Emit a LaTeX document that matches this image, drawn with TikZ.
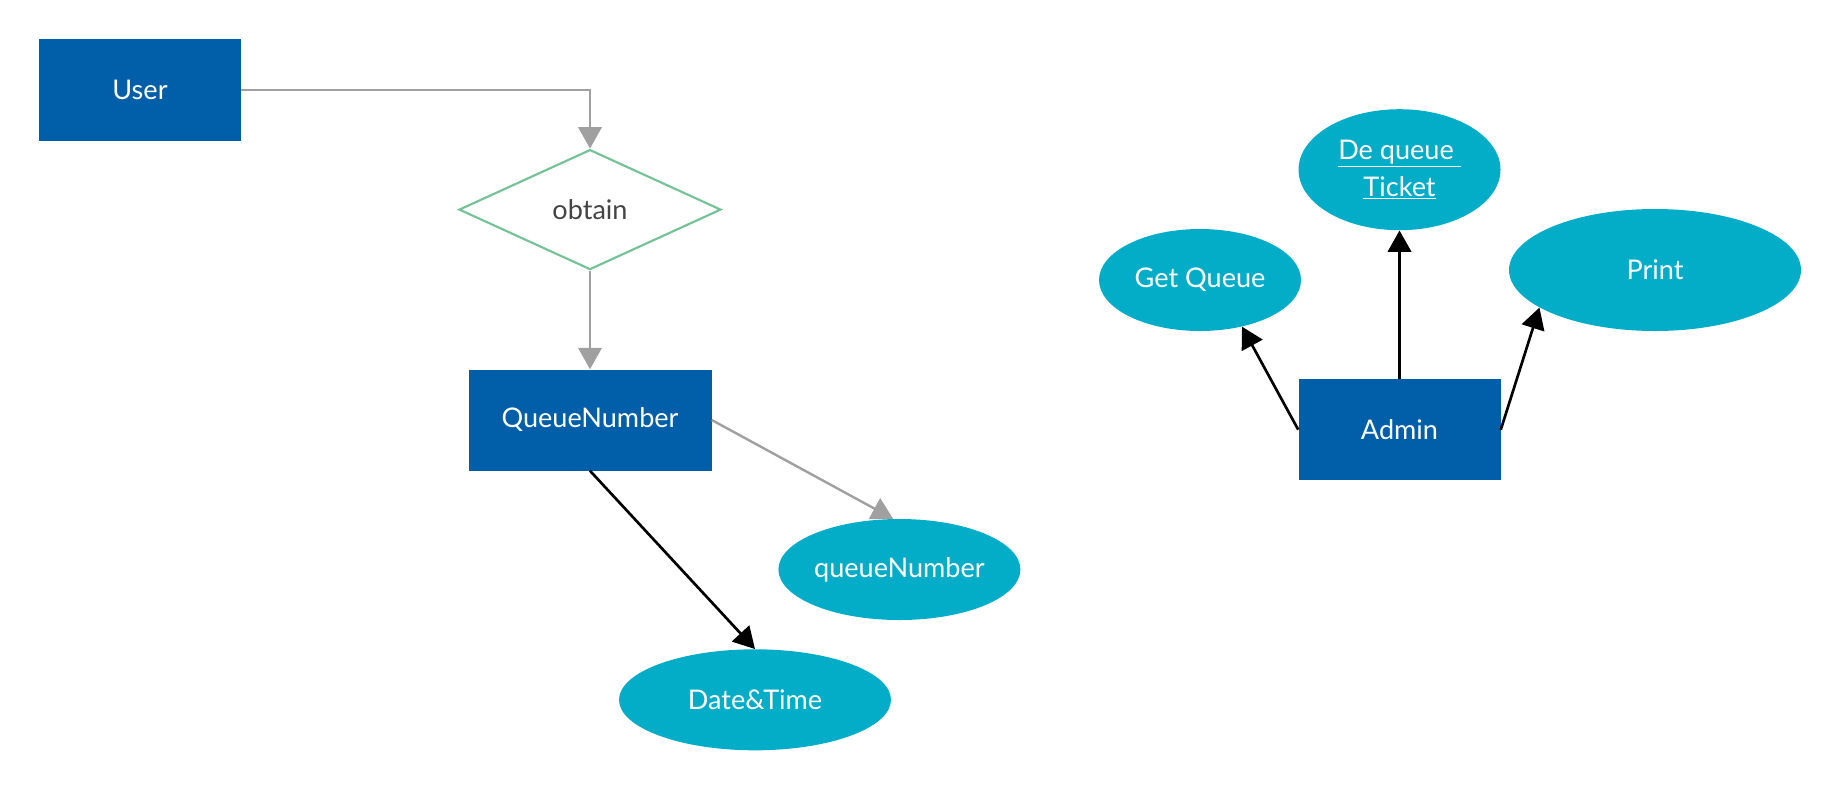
\documentclass[tikz,border=0pt]{standalone}
\usepackage{fontspec}
\setmainfont{Lato}
\usetikzlibrary{shapes.geometric,arrows.meta}
\newdimen\px
\px=0.75pt
\definecolor{boxblue}{RGB}{1,94,168}
\definecolor{ellcyan}{RGB}{4,173,199}
\definecolor{linegrey}{RGB}{160,160,160}
\definecolor{diagreen}{RGB}{116,194,150}
\definecolor{txtgrey}{RGB}{68,68,68}
\tikzset{
  boxnode/.style={rectangle, fill=boxblue, text=white, inner sep=0pt, font=\fontsize{20.3}{25}\selectfont},
  ellnode/.style={ellipse, fill=ellcyan, text=white, inner sep=0pt, align=center, font=\fontsize{20.3}{28}\selectfont},
  dianode/.style={diamond, draw=diagreen, line width=1.6pt, fill=white, text=txtgrey, inner sep=0pt, font=\fontsize{20.3}{25}\selectfont},
  greyarrow/.style={draw=linegrey, line width=1.8pt, -{Triangle[length=16pt,width=17.5pt]}},
  blackarrow/.style={draw=black, line width=2pt, -{Triangle[length=16pt,width=17.5pt]}},
}
\begin{document}
\begin{tikzpicture}[x=0.75pt,y=-0.75pt]
\useasboundingbox (0,0) rectangle (1841,790);
% left part
\node[boxnode, minimum width=202\px, minimum height=102\px] (user) at (140,90) {User};
\node[dianode, minimum width=262\px, minimum height=120\px] (obtain) at (590,209.6) {obtain};
\node[boxnode, minimum width=243\px, minimum height=101\px] (qn) at (590,420) {QueueNumber};
\node[ellnode, minimum width=242\px, minimum height=101\px] (qnum) at (899.4,569.5) {queueNumber};
\node[ellnode, minimum width=272\px, minimum height=101\px] (dt) at (755,699.8) {Date\&Time};
% right part
\node[ellnode, minimum width=202\px, minimum height=102\px] (getq) at (1200,280) {Get Queue};
\node[ellnode, minimum width=202\px, minimum height=121\px] (deq) at (1399.5,169.7) {\underline{De queue\ }\\\underline{Ticket}};
\node[ellnode, minimum width=292\px, minimum height=122\px] (print) at (1655,270) {Print};
\node[boxnode, minimum width=202\px, minimum height=101\px] (admin) at (1399.5,429.7) {Admin};
% connectors
\draw[greyarrow] (user.east) -| (obtain.north);
\draw[greyarrow] (obtain.south) -- (qn.north);
\draw[greyarrow] (qn.east) -- (qnum.97);
\draw[blackarrow] (qn.south) -- (dt.north);
\draw[blackarrow] (admin.west) -- (getq.312);
\draw[blackarrow] (admin.north) -- (deq.south);
\draw[blackarrow] (admin.east) -- (print.198);
\end{tikzpicture}
\end{document}
